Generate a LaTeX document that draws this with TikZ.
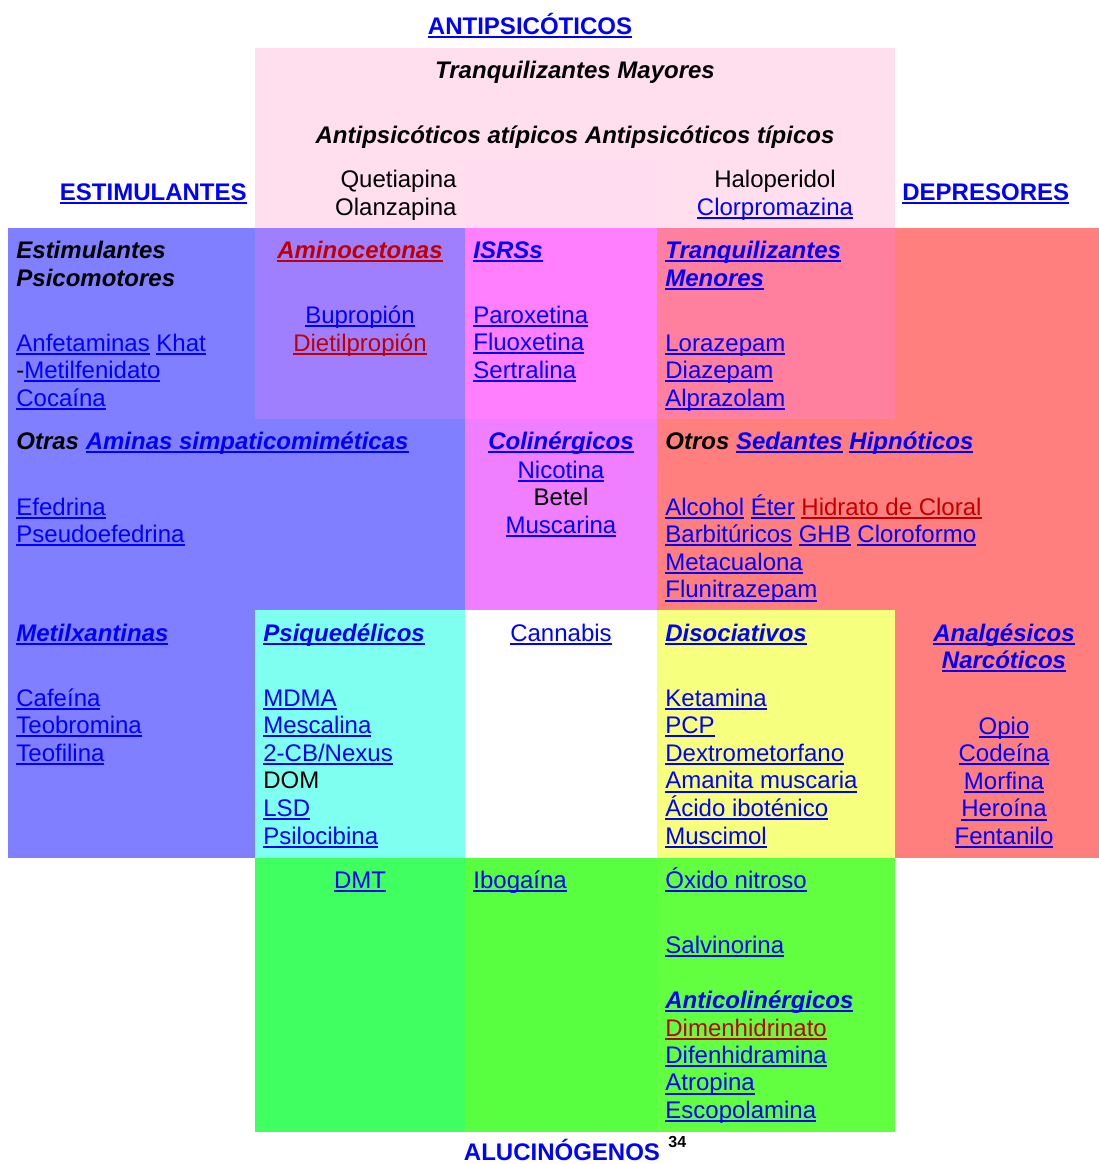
\documentclass[tikz,border=0pt]{standalone}
\usepackage{fontspec}
\setmainfont{Liberation Sans}
\usetikzlibrary{positioning}

\definecolor{lkblue}{HTML}{0000FF}
\definecolor{lkred}{HTML}{C00000}
\definecolor{cPink}{HTML}{FFDFEE}
\definecolor{cPinkB}{HTML}{FFDCF0}
\definecolor{cBlue}{HTML}{7F7FFF}
\definecolor{cViolet}{HTML}{A07FFF}
\definecolor{cMag}{HTML}{FF7FFF}
\definecolor{cMagB}{HTML}{EF7FFF}
\definecolor{cRose}{HTML}{FF7F9F}
\definecolor{cRed}{HTML}{FF7F7F}
\definecolor{cCyan}{HTML}{7FFFEF}
\definecolor{cYellow}{HTML}{F7FF7F}
\definecolor{cGreenA}{HTML}{40FF60}
\definecolor{cGreenB}{HTML}{58FF40}
\definecolor{cGreenC}{HTML}{62FF40}

\newlength\ulwd
\newcommand\ul[1]{\settowidth\ulwd{#1}\rlap{\rule[-1.9pt]{\ulwd}{1pt}}#1}
\newcommand\lk[1]{\textcolor{lkblue}{\ul{#1}}}
\newcommand\lkr[1]{\textcolor{lkred}{\ul{#1}}}

\begin{document}
\begin{tikzpicture}[x=0.5pt, y=-0.5pt, font=\fontsize{12}{13.8}\selectfont,
	lft/.style={anchor=base west, inner sep=0pt},
	ctr/.style={anchor=base, inner sep=0pt},
	rgt/.style={anchor=base east, inner sep=0pt},
	hd/.style={font=\fontsize{12}{13.8}\selectfont\bfseries\itshape},
	ttl/.style={font=\fontsize{12}{13.8}\selectfont\bfseries}]
	\useasboundingbox (0,0) rectangle (1099,1164);
	% cells
	\fill[cPink] (255,48) rectangle (895,228);
	\fill[cPinkB] (465,160) rectangle (657,228);
	\fill[cBlue] (8,228) rectangle (255,858);
	\fill[cBlue] (255,419) rectangle (465,610);
	\fill[cViolet] (255,228) rectangle (465,419);
	\fill[cMag] (465,228) rectangle (657,419);
	\fill[cMagB] (465,419) rectangle (657,610);
	\fill[cRose] (657,228) rectangle (895,419);
	\fill[cRed] (895,228) rectangle (1099,858);
	\fill[cRed] (657,419) rectangle (895,610);
	\fill[cCyan] (255,610) rectangle (465,858);
	\fill[cYellow] (657,610) rectangle (895,858);
	\fill[cGreenA] (255,858) rectangle (465,1132);
	\fill[cGreenB] (465,858) rectangle (657,1132);
	\fill[cGreenC] (657,858) rectangle (895,1132);
	
	\begin{scope}[shift={(-1,-1)}]
	% group titles
	\node[ctr, ttl] (antips) at (531,35) {\lk{ANTIPSICÓTICOS}};
	\node[rgt, ttl] (estim) at (248,201) {\lk{ESTIMULANTES}};
	\node[lft, ttl] (depres) at (903,201) {\lk{DEPRESORES}};
	\node[ctr, ttl, text=lkblue] (aluc) at (563,1161) {ALUCINÓGENOS};
	\node[lft, font=\fontsize{8}{9}\selectfont\bfseries] (refnum) at (669,1148) {34};
	
	% antipsicoticos
	\node[ctr, hd] (mayores) at (576,79) {Tranquilizantes Mayores};
	\node[ctr, hd] (tipos) at (576,144) {Antipsicóticos atípicos Antipsicóticos típicos};
	\node[rgt] (quet) at (458,188) {Quetiapina};
	\node[rgt] (olan) at (458,216) {Olanzapina};
	\node[ctr] (halo) at (776,188) {Haloperidol};
	\node[ctr] (clor) at (776,216) {\lk{Clorpromazina}};
	
	% first row
	\node[lft, hd] (psico1) at (17,259) {Estimulantes};
	\node[lft, hd] (psico2) at (17,287) {Psicomotores};
	\foreach \t [count=\i from 0] in {{\lk{Anfetaminas} \lk{Khat}}, {-\lk{Metilfenidato}}, \lk{Cocaína}}
		\node[lft] (psico\i) at (17,352+27.6*\i) {\t};
	\node[ctr, hd] (amino) at (361,259) {\lkr{Aminocetonas}};
	\node[ctr] (bupro) at (361,324) {\lk{Bupropión}};
	\node[ctr] (dietil) at (361,352) {\lkr{Dietilpropión}};
	\node[lft, hd] (isrs) at (474,259) {\lk{ISRSs}};
	\foreach \t [count=\i from 0] in {Paroxetina, Fluoxetina, Sertralina}
		\node[lft] (isrs\i) at (474,324+27.6*\i) {\lk{\t}};
	\node[lft, hd] (menor1) at (666,259) {\lk{Tranquilizantes}};
	\node[lft, hd] (menor2) at (666,287) {\lk{Menores}};
	\foreach \t [count=\i from 0] in {Lorazepam, Diazepam, Alprazolam}
		\node[lft] (menor\i) at (666,352+27.6*\i) {\lk{\t}};
	
	% second row
	\node[lft, hd] (aminas) at (17,450) {Otras \lk{Aminas simpaticomiméticas}};
	\node[lft] (efed) at (17,516) {\lk{Efedrina}};
	\node[lft] (pseudo) at (17,543) {\lk{Pseudoefedrina}};
	\node[ctr, hd] (colin) at (562,450) {\lk{Colinérgicos}};
	\foreach \t [count=\i from 0] in {\lk{Nicotina}, Betel, \lk{Muscarina}}
		\node[ctr] (colin\i) at (562,479+27.6*\i) {\t};
	\node[lft, hd] (sedan) at (666,450) {Otros \lk{Sedantes} \lk{Hipnóticos}};
	\foreach \t [count=\i from 0] in {{\lk{Alcohol} \lk{Éter} \lkr{Hidrato de Cloral}},
		{\lk{Barbitúricos} \lk{GHB} \lk{Cloroformo}}, \lk{Metacualona}, \lk{Flunitrazepam}}
		\node[lft] (sedan\i) at (666,516+27.6*\i) {\t};
	
	% third row
	\node[lft, hd] (metil) at (17,642) {\lk{Metilxantinas}};
	\foreach \t [count=\i from 0] in {Cafeína, Teobromina, Teofilina}
		\node[lft] (metil\i) at (17,707+27.6*\i) {\lk{\t}};
	\node[lft, hd] (psique) at (264,642) {\lk{Psiquedélicos}};
	\foreach \t [count=\i from 0] in {\lk{MDMA}, \lk{Mescalina}, \lk{2-CB/Nexus}, DOM, \lk{LSD}, \lk{Psilocibina}}
		\node[lft] (psique\i) at (264,707+27.6*\i) {\t};
	\node[ctr] (canna) at (562,642) {\lk{Cannabis}};
	\node[lft, hd] (disoc) at (666,642) {\lk{Disociativos}};
	\foreach \t [count=\i from 0] in {Ketamina, PCP, Dextrometorfano, Amanita muscaria, Ácido iboténico, Muscimol}
		\node[lft] (disoc\i) at (666,707+27.6*\i) {\lk{\t}};
	\node[ctr, hd] (analg1) at (1005,642) {\lk{Analgésicos}};
	\node[ctr, hd] (analg2) at (1005,669) {\lk{Narcóticos}};
	\foreach \t [count=\i from 0] in {Opio, Codeína, Morfina, Heroína, Fentanilo}
		\node[ctr] (analg\i) at (1005,735+27.6*\i) {\lk{\t}};
	
	% bottom row
	\node[ctr] (dmt) at (361,889) {\lk{DMT}};
	\node[lft] (ibog) at (474,889) {\lk{Ibogaína}};
	\node[lft] (oxido) at (666,889) {\lk{Óxido nitroso}};
	\node[lft] (salvi) at (666,954) {\lk{Salvinorina}};
	\node[lft, hd] (antic) at (666,1009) {\lk{Anticolinérgicos}};
	\foreach \t [count=\i from 0] in {\lkr{Dimenhidrinato}, \lk{Difenhidramina}, \lk{Atropina}, \lk{Escopolamina}}
		\node[lft] (antic\i) at (666,1037+27.4*\i) {\t};
	\end{scope}
\end{tikzpicture}
\end{document}
